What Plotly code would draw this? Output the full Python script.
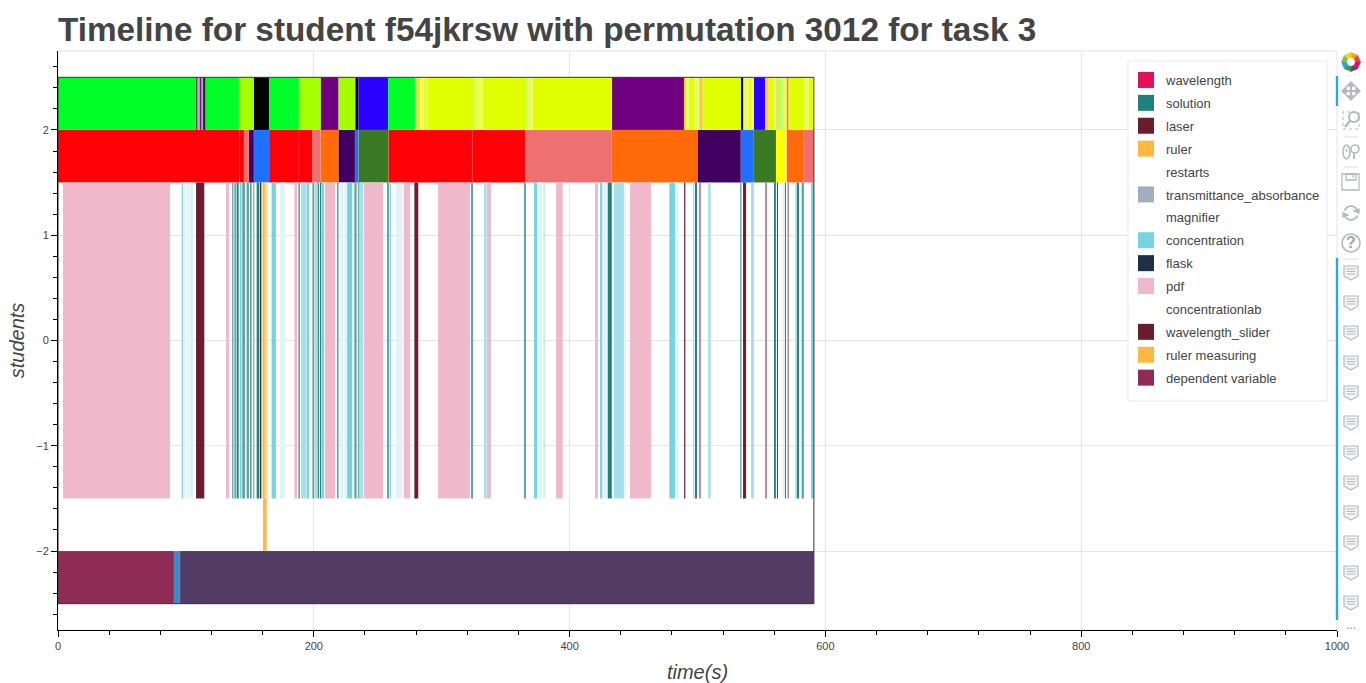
import math
import plotly.graph_objects as go

TITLE = 'Timeline for student f54jkrsw with permutation 3012 for task 3'
FONT = 'Liberation Sans'

# (start, end) in seconds
# top row
top_green = [(0, 107.9), (115.2, 141.5), (165, 188.4), (258, 279.1)]
top_lime = [(141.5, 153.2), (188.4, 205.5), (219.2, 232.5)]
top_black = [(114.2, 115.2), (153.2, 165), (232.5, 234.8), (533.9, 535.8)]
top_purple = [(205.5, 219.2), (433, 489.5), (561.9, 562.4), (569.7, 570.5), (111, 112.3), (113.1, 114.2)]
top_blue = [(234.8, 258), (544.1, 553)]
top_yellow = [(285.7, 286.9), (289.3, 324.7), (331.8, 366), (371.1, 433), (493.1, 497.8), (504, 533.9),
              (539.7, 541.8), (555.6, 559.3), (571.6, 583.5), (586.7, 591)]
top_yellow_pale = [(282.5, 285.7), (286.9, 289.3), (326.5, 331.8), (367.5, 371.1), (491, 493.1), (497.8, 500.7),
                   (536.6, 539.7), (541.8, 543.6), (559.3, 561.9), (566.6, 569.7), (583.5, 586.7)]
top_lime_pale = [(279.1, 281), (324.7, 326.5), (366, 367.5), (500.7, 501.4), (562.4, 566.6)]
top_gold = [(281, 282.5), (501.4, 504), (535.8, 536.6), (553, 555.6), (570.5, 571.6), (489.5, 491)]
top_brown = [(107.9, 108.7)]
top_orange = [(108.7, 109.7)]
top_slate = [(109.7, 111), (112.3, 113.1)]

# second row
second_red = [(0, 141.8), (141.8, 145.4), (165, 188.4), (188.4, 199.1), (258.3, 323.9), (323.9, 365.4)]
second_salmon = [(145.4, 149.3), (199.1, 205.4), (365.4, 433), (582.8, 591)]
second_purple = [(149.3, 153.2), (219.2, 232.2), (499.9, 533.9)]
second_blue = [(153.2, 165), (232.2, 235), (533.9, 544.1)]
second_orange = [(205.4, 219.2), (433, 499.9), (569.7, 582.8)]
second_green = [(235, 258.3), (544.1, 561.4)]
second_yellow = [(561.4, 569.2)]

# tall middle row
concentration = [(96.7, 97.7), (142.3, 143.6), (167, 170.4), (194.7, 196.4), (206.4, 208), (226, 230.1),
                 (259.3, 260.3), (372.2, 374.8), (423.8, 425.6), (478, 482.4), (588.8, 591)]
concentration_light = [(190, 194.4), (200.9, 202.8), (236.1, 238.7), (333.1, 335.2), (379.7, 380.5),
                       (434.7, 442.5), (496.5, 497.5), (508.3, 510.3), (541.8, 544.2), (576.3, 577.8)]
concentration_pale = [(97.7, 99.5), (100.5, 102.5), (103, 105.8), (173.6, 177.5), (220.5, 223.1), (223.9, 225.7),
                      (264.3, 269.3), (374.8, 378.7), (425.6, 429), (442.5, 443.8), (482.9, 485), (566.6, 568.4)]
solution = [(136.3, 137.1), (139.7, 141.3), (155.3, 157.4), (203, 204), (204.8, 205.9), (234.8, 235.6),
            (429.8, 433), (498, 499.6), (533.5, 534.3), (559.8, 561.3), (568.4, 569.2), (577.8, 579.4)]
solution_light = [(137.9, 139.2), (144.1, 146.2), (147.5, 149.3), (150.1, 151.4), (152.7, 153.5), (187.9, 189.2),
                  (198.9, 200.4), (218.1, 219.4), (231.7, 233.5), (257.2, 258.8), (322.9, 324.5), (364.3, 365.9),
                  (581.4, 583.2)]
pdf = [(3.9, 87.6), (131.4, 133.7), (184.8, 186.9), (208.8, 216.6), (239.3, 254.1), (270.3, 275.3),
       (297.1, 322.1), (335.4, 338.5), (389.4, 394.6), (419.9, 422.2), (447.2, 463.6)]
wavelength_slider = [(107.9, 114.4), (278.6, 281.7), (489.5, 490.5), (535.6, 538), (562.1, 562.9)]
wavelength_slider_faded = [(501.2, 502.7), (552.8, 554.4), (570.3, 571.6)]
flask = [(157.9, 159)]
ruler = [(159.8, 161.8)]
ruler_faded = [(161.8, 163.9)]

# short row just under the tall one
ruler_measuring = [(160.3, 163.2)]

# bottom row
dependent_variable = [(0, 90.7)]
bottom_blue = [(90.7, 95.4)]
bottom_purple = [(95.4, 591)]

session_end = 591

legend_names = ['wavelength', 'solution', 'laser', 'ruler', 'restarts', 'transmittance_absorbance', 'magnifier',
                'concentration', 'flask', 'pdf', 'concentrationlab', 'wavelength_slider', 'ruler measuring',
                'dependent variable']
legend_colors = ['#e0125a', '#208080', '#6b1d30', '#ffb940', '#ffffff', '#a0aec0', '#ffffff',
                 '#76d3e0', '#1d3045', '#f0b8cb', '#ffffff', '#6b1d30', '#ffb940', '#8f2c55']


def bar_trace(segments, color, center, height, group=None):
    """One horizontal bar per (start, end) segment of a timeline row."""
    return go.Bar(
        orientation='h',
        y=[center] * len(segments),
        x=[end - start for start, end in segments],
        base=[start for start, end in segments],
        width=height,
        marker=dict(color=color, line=dict(color='rgba(255,255,255,0.15)', width=0.5)),
        showlegend=False,
        legendgroup=group,
        hoverinfo='skip',
    )


fig = go.Figure()

for segments, color in [(top_green, '#00ff28'), (top_lime, '#a6ff00'), (top_black, '#000000'),
                        (top_purple, '#6f007f'), (top_blue, '#2a00ff'), (top_yellow, '#e0ff00'),
                        (top_yellow_pale, '#ecff50'), (top_lime_pale, '#c4ff50'), (top_gold, '#ffc830'),
                        (top_brown, '#5a3a20'), (top_orange, '#c08040'), (top_slate, '#8aa0c0')]:
    fig.add_trace(bar_trace(segments, color, 2.25, 0.5))

for segments, color in [(second_red, '#ff0006'), (second_salmon, '#ef7070'), (second_purple, '#40005f'),
                        (second_blue, '#2070ff'), (second_orange, '#ff6a0a'), (second_green, '#3a7a25'),
                        (second_yellow, '#ffff00')]:
    fig.add_trace(bar_trace(segments, color, 1.75, 0.5))

for segments, color, group in [(pdf, '#f0b8cb', 'pdf'), (concentration, '#76d3e0', 'concentration'),
                               (concentration_light, '#a5e0ea', 'concentration'),
                               (concentration_pale, '#e0f4f7', 'concentration'),
                               (solution, '#208080', 'solution'), (solution_light, '#5ba3a3', 'solution'),
                               (wavelength_slider, '#6b1d30', 'wavelength_slider'),
                               (wavelength_slider_faded, '#b08a98', 'wavelength_slider'),
                               (flask, '#1d3045', 'flask'), (ruler, '#ffb940', 'ruler'),
                               (ruler_faded, '#ffdd9e', 'ruler')]:
    fig.add_trace(bar_trace(segments, color, 0, 3, group))

fig.add_trace(bar_trace(ruler_measuring, '#ffb940', -1.75, 0.5, 'ruler measuring'))

for segments, color, group in [(dependent_variable, '#8f2c55', 'dependent variable'),
                               (bottom_blue, '#3e88c8', None), (bottom_purple, '#523c63', None)]:
    fig.add_trace(bar_trace(segments, color, -2.25, 0.5, group))

# dark frame round the whole session
fig.add_trace(go.Bar(orientation='h', y=[0], x=[session_end], base=[0], width=5,
                     marker=dict(color='rgba(0,0,0,0)', line=dict(color='#333333', width=1)),
                     showlegend=False, hoverinfo='skip'))

# legend entries, big square swatches
for name, color in zip(legend_names, legend_colors):
    fig.add_trace(go.Scatter(x=[None], y=[None], mode='markers', name=name, legendgroup=name,
                             marker=dict(symbol='square', size=16, color=color)))


# toolbar drawing, in pixels of the 1366x683 page
def px_x(x):
    return (x - 58) / 1279


def px_y(y):
    return (630 - y) / 579


def path_shape(points, color, fill=None, closed=False, width=1.3):
    cmds = ['{} {} {}'.format('M' if i == 0 else 'L', px_x(x), px_y(y)) for i, (x, y) in enumerate(points)]
    return dict(type='path', xref='paper', yref='paper', path=' '.join(cmds) + (' Z' if closed else ''),
                line=dict(color=color, width=width), fillcolor=fill)


def oval_shape(x0, y0, x1, y1, color, width=1.3):
    return dict(type='circle', xref='paper', yref='paper', x0=px_x(x0), x1=px_x(x1), y0=px_y(y1), y1=px_y(y0),
                line=dict(color=color, width=width))


def rect_shape(x0, y0, x1, y1, color, dash=None, width=1.3, fill=None):
    return dict(type='rect', xref='paper', yref='paper', x0=px_x(x0), x1=px_x(x1), y0=px_y(y1), y1=px_y(y0),
                line=dict(color=color, width=width, dash=dash), fillcolor=fill)


ICON = '#b4b9bf'
BLUE = '#26aae1'
shapes = [dict(type='rect', xref='paper', yref='paper', x0=0, x1=1, y0=0, y1=1, layer='below',
               line=dict(color='#e5e5e5', width=1))]
# legend box, roomier than the one plotly draws
shapes.append(rect_shape(1128, 61, 1327, 401, '#ebebeb', width=1, fill='white'))
shapes.append(path_shape([(1337, 76), (1337, 106)], BLUE, width=2.4))
shapes.append(path_shape([(1337, 258), (1337, 620)], BLUE, width=2.4))

# logo
logo_colors = ['#f6a21c', '#e8452c', '#e0125a', '#7b2d9e', '#2f9e44', '#2f9ee0', '#7fc241', '#f6d21c']
for i, color in enumerate(logo_colors):
    a0, a1 = i * math.pi / 4 - math.pi / 2, (i + 1) * math.pi / 4 - math.pi / 2
    shapes.append(path_shape([(1351 + 9.5 * math.cos(a0), 62 + 9.5 * math.sin(a0)),
                              (1351 + 9.5 * math.cos(a1), 62 + 9.5 * math.sin(a1)),
                              (1351 + 4.5 * math.cos(a1), 62 + 4.5 * math.sin(a1)),
                              (1351 + 4.5 * math.cos(a0), 62 + 4.5 * math.sin(a0))], color, fill=color, closed=True, width=0.5))

# pan
shapes.append(path_shape([(1343, 91), (1359, 91)], ICON, width=2))
shapes.append(path_shape([(1351, 83), (1351, 99)], ICON, width=2))
for tip, a, b in [((1342, 91), (1346, 87), (1346, 95)), ((1360, 91), (1356, 87), (1356, 95)),
                  ((1351, 82), (1347, 86), (1355, 86)), ((1351, 100), (1347, 96), (1355, 96))]:
    shapes.append(path_shape([tip, a, b], ICON, fill=ICON, closed=True))
# box zoom
shapes.append(rect_shape(1343, 112, 1359, 129, ICON, dash='dot', width=1))
shapes.append(oval_shape(1349, 112, 1359, 122, ICON, width=2))
shapes.append(path_shape([(1350, 121), (1345, 127)], ICON, width=2.4))
# separators
for y in [137, 167, 259]:
    shapes.append(path_shape([(1344, y), (1358, y)], '#dddddd', width=1))
# wheel zoom
shapes.append(oval_shape(1343, 145, 1350, 159, ICON, width=1.6))
shapes.append(oval_shape(1351, 145, 1359, 153, ICON, width=1.6))
shapes.append(path_shape([(1354, 153), (1354, 159)], ICON, width=1.8))
shapes.append(path_shape([(1346.5, 149), (1346.5, 152)], ICON, width=1.6))
# save
shapes.append(rect_shape(1342, 174, 1359, 190, ICON))
shapes.append(rect_shape(1346, 174, 1356, 180, ICON))
shapes.append(path_shape([(1353, 175), (1353, 178)], ICON))
# reset
for start, end in [(200, 340), (20, 160)]:
    arc = [(1351 + 7 * math.cos(math.radians(a)), 213 + 7 * math.sin(math.radians(a))) for a in range(start, end + 1, 20)]
    shapes.append(path_shape(arc, ICON, width=1.8))
shapes.append(path_shape([(1359, 209), (1354, 211), (1359, 213)], ICON, fill=ICON, closed=True))
shapes.append(path_shape([(1343, 217), (1348, 215), (1343, 213)], ICON, fill=ICON, closed=True))
# help
shapes.append(oval_shape(1342, 234, 1360, 252, ICON, width=1.6))
# hover tools
for i in range(12):
    y = 273 + 30 * i
    shapes.append(path_shape([(1344, y - 7), (1358, y - 7), (1358, y + 3), (1351, y + 7), (1344, y + 3)],
                             ICON, fill='#f5f5f5', closed=True, width=1.2))
    for dy in [-4, -1.5, 1]:
        shapes.append(path_shape([(1346.5, y + dy), (1355.5, y + dy)], ICON, width=1))

annotations = [
    dict(text='?', xref='paper', yref='paper', x=px_x(1351), y=px_y(243), xanchor='center', yanchor='middle',
         showarrow=False, font=dict(family=FONT, size=16, color='#a0a6ad', weight=700)),
    dict(text='...', xref='paper', yref='paper', x=px_x(1351), y=px_y(625), xanchor='center', yanchor='middle',
         showarrow=False, font=dict(family=FONT, size=12, color='#888888')),
]

fig.update_layout(
    width=1366,
    height=683,
    margin=dict(l=58, r=29, t=51, b=53),
    paper_bgcolor='white',
    plot_bgcolor='white',
    barmode='overlay',
    font=dict(family=FONT, color='#444444'),
    title=dict(text=TITLE, x=58 / 1366, xanchor='left', y=1 - 29 / 683, yanchor='middle',
               font=dict(family=FONT, size=33.3, color='#444444', weight=700)),
    legend=dict(x=px_x(1126), xanchor='left', y=px_y(65), yanchor='top', traceorder='grouped', tracegroupgap=3,
                bgcolor='rgba(0,0,0,0)', borderwidth=0,
                font=dict(family=FONT, size=13, color='#444444'), itemclick=False, itemdoubleclick=False),
    xaxis=dict(range=[0, 1000], dtick=200, showgrid=True, gridcolor='#e5e5e5', zeroline=False, automargin=False,
               showline=True, linecolor='black', linewidth=1, ticks='outside', ticklen=6, tickcolor='black',
               minor=dict(dtick=40, ticks='outside', ticklen=4, tickcolor='black', showgrid=False),
               tickfont=dict(family=FONT, size=11, color='#444444'),
               title=dict(text='time(s)', standoff=17, font=dict(family=FONT, size=20, style='italic', color='#444444'))),
    yaxis=dict(range=[-2.75, 2.75], dtick=1, showgrid=True, gridcolor='#e5e5e5', zeroline=False, automargin=False,
               showline=True, linecolor='black', linewidth=1, ticks='outside', ticklen=6, tickcolor='black',
               minor=dict(dtick=0.2, ticks='outside', ticklen=4, tickcolor='black', showgrid=False),
               tickfont=dict(family=FONT, size=11, color='#444444'),
               title=dict(text='students', standoff=6, font=dict(family=FONT, size=20, style='italic', color='#444444'))),
    shapes=shapes,
    annotations=annotations,
)

# the page's default body margin would push the chart off the window
fig.write_html("out.html", config=dict(displayModeBar=False), post_script="document.body.style.margin = '0';")
